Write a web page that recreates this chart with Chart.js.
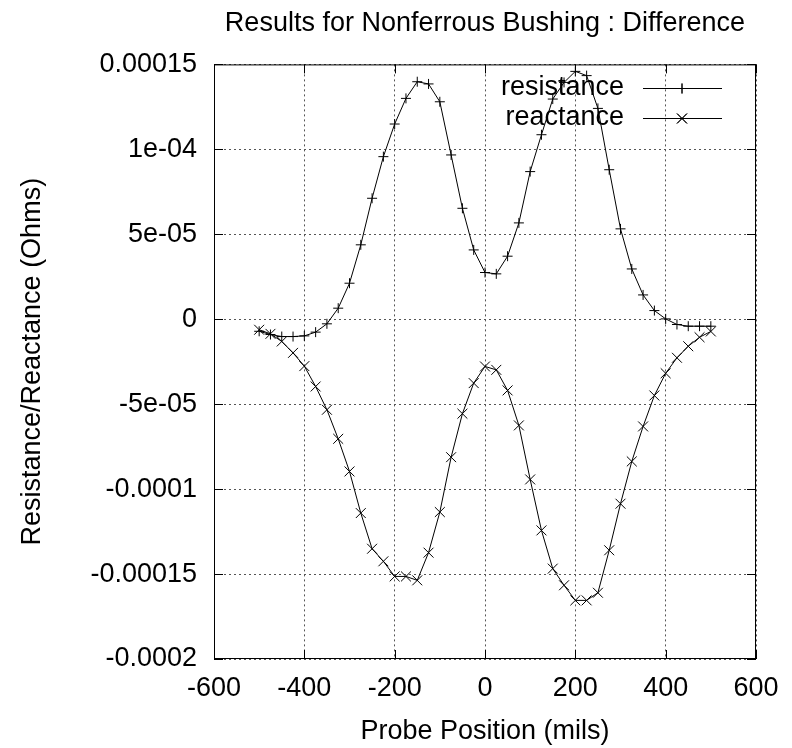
<!DOCTYPE html>
<html><head><meta charset="utf-8">
<script src="https://cdn.jsdelivr.net/npm/chart.js@4/dist/chart.umd.min.js"></script>
<style>html,body{margin:0;padding:0;background:#fff;}</style>
</head><body>
<canvas id="c" width="792" height="748"></canvas>
<script>
const chartTitle = 'Results for Nonferrous Bushing : Difference';
const xAxisTitle = 'Probe Position (mils)';
const yAxisTitle = 'Resistance/Reactance (Ohms)';
const seriesNames = ['resistance', 'reactance'];
const positions = [-500,-475,-450,-425,-400,-375,-350,-325,-300,-275,-250,-225,-200,-175,-150,-125,-100,-75,-50,-25,0,25,50,75,100,125,150,175,200,225,250,275,300,325,350,375,400,425,450,475,500];
const resistance = [-0.71e-5,-0.90e-5,-1.02e-5,-1.02e-5,-0.98e-5,-0.76e-5,-0.27e-5,0.65e-5,2.12e-5,4.38e-5,7.12e-5,9.57e-5,11.49e-5,13.0e-5,13.98e-5,13.85e-5,12.8e-5,9.67e-5,6.53e-5,4.08e-5,2.75e-5,2.67e-5,3.71e-5,5.67e-5,8.69e-5,10.86e-5,12.96e-5,13.94e-5,14.59e-5,14.34e-5,12.41e-5,8.8e-5,5.32e-5,2.96e-5,1.43e-5,0.51e-5,0.02e-5,-0.31e-5,-0.41e-5,-0.41e-5,-0.41e-5];
const reactance = [-0.62e-5,-0.86e-5,-1.31e-5,-1.98e-5,-2.76e-5,-3.96e-5,-5.33e-5,-7.04e-5,-8.96e-5,-11.41e-5,-13.51e-5,-14.25e-5,-15.14e-5,-15.14e-5,-15.37e-5,-13.74e-5,-11.35e-5,-8.12e-5,-5.56e-5,-3.76e-5,-2.78e-5,-2.98e-5,-4.19e-5,-6.25e-5,-9.43e-5,-12.43e-5,-14.68e-5,-15.66e-5,-16.55e-5,-16.55e-5,-16.1e-5,-13.6e-5,-10.86e-5,-8.37e-5,-6.31e-5,-4.49e-5,-3.18e-5,-2.27e-5,-1.59e-5,-1.06e-5,-0.72e-5];
const xTickValues = [-600,-400,-200,0,200,400,600];
const xTickLabels = ['-600','-400','-200','0','200','400','600'];
const yTickValues = [-0.0002,-0.00015,-0.0001,-0.00005,0,0.00005,0.0001,0.00015];
const yTickLabels = ['-0.0002','-0.00015','-0.0001','-5e-05','0','5e-05','1e-04','0.00015'];

const FONT = 'Liberation Sans, Arial, Helvetica, sans-serif';
const FS = 27;

function toPoints(xs, ys) { return xs.map((x, i) => ({x: x, y: ys[i]})); }

const framePlugin = {
  id: 'frame',
  afterDraw(chart) {
    const {ctx, chartArea: a, scales} = chart;
    const xs = scales.x, ys = scales.y;
    ctx.save();
    ctx.strokeStyle = '#000';
    ctx.lineWidth = 1;
    ctx.setLineDash([]);
    ctx.strokeRect(a.left + 0.5, a.top + 0.5, a.right - a.left - 1, a.bottom - a.top - 1);
    const L = 9;
    ctx.beginPath();
    xTickValues.forEach(v => {
      const px = Math.round(xs.getPixelForValue(v)) + 0.5;
      ctx.moveTo(px, a.bottom); ctx.lineTo(px, a.bottom - L);
      ctx.moveTo(px, a.top); ctx.lineTo(px, a.top + L);
    });
    yTickValues.forEach(v => {
      const py = Math.round(ys.getPixelForValue(v)) + 0.5;
      ctx.moveTo(a.left, py); ctx.lineTo(a.left + L, py);
      ctx.moveTo(a.right, py); ctx.lineTo(a.right - L, py);
    });
    ctx.stroke();
    // legend
    ctx.font = FS + 'px ' + FONT;
    ctx.fillStyle = '#000';
    ctx.textAlign = 'right';
    ctx.textBaseline = 'middle';
    const rows = [88, 118];
    chart.data.datasets.forEach((ds, i) => {
      const y = rows[i];
      ctx.fillText(ds.label, 624, y);
      ctx.beginPath();
      ctx.moveTo(643, y + 0.5); ctx.lineTo(722, y + 0.5);
      ctx.stroke();
      Chart.helpers.drawPoint(ctx, {pointStyle: ds.pointStyle, radius: ds.pointRadius, rotation: 0, borderWidth: 1}, 682, y + 0.5);
      ctx.strokeStyle = '#000';
      ctx.lineWidth = 1;
      ctx.stroke();
    });
    ctx.restore();
  }
};

new Chart(document.getElementById('c'), {
  type: 'scatter',
  data: {
    datasets: [
      { label: seriesNames[0], data: toPoints(positions, resistance), showLine: true,
        borderColor: '#000', backgroundColor: '#000', borderWidth: 1, tension: 0,
        pointStyle: 'cross', pointRadius: 5, pointBorderWidth: 1, pointBorderColor: '#000' },
      { label: seriesNames[1], data: toPoints(positions, reactance), showLine: true,
        borderColor: '#000', backgroundColor: '#000', borderWidth: 1, tension: 0,
        pointStyle: 'crossRot', pointRadius: 7, pointBorderWidth: 1, pointBorderColor: '#000' }
    ]
  },
  options: {
    responsive: false,
    animation: false,
    devicePixelRatio: 1,
    layout: { padding: { left: 0, right: 36, top: 0, bottom: 0 } },
    plugins: {
      legend: { display: false },
      tooltip: { enabled: false },
      title: { display: true, text: chartTitle, fullSize: false, color: '#000',
        font: { family: FONT, size: FS, weight: 'normal' }, padding: { top: 7, bottom: 25 } }
    },
    scales: {
      x: {
        type: 'linear', min: -600, max: 600,
        afterBuildTicks(s) { s.ticks = xTickValues.map(v => ({value: v})); },
        afterFit(s) { s.height = 89; },
        ticks: { color: '#000', font: { family: FONT, size: FS }, padding: 13, maxRotation: 0,
          callback: (v, i) => xTickLabels[i] },
        grid: { color: '#555', lineWidth: 1, drawTicks: false },
        border: { display: false, dash: [2, 3] },
        title: { display: true, text: xAxisTitle, color: '#000', font: { family: FONT, size: FS }, padding: { top: 0, bottom: 0 } }
      },
      y: {
        type: 'linear', min: -0.0002, max: 0.00015,
        afterBuildTicks(s) { s.ticks = yTickValues.map(v => ({value: v})); },
        afterFit(s) { s.width = 214; },
        ticks: { color: '#000', font: { family: FONT, size: FS }, padding: 17,
          callback: (v, i) => yTickLabels[i] },
        grid: { color: '#555', lineWidth: 1, drawTicks: false },
        border: { display: false, dash: [2, 3] },
        title: { display: true, text: yAxisTitle, color: '#000', font: { family: FONT, size: FS }, padding: { top: 16, bottom: 0 } }
      }
    }
  },
  plugins: [framePlugin]
});
</script>
</body></html>
